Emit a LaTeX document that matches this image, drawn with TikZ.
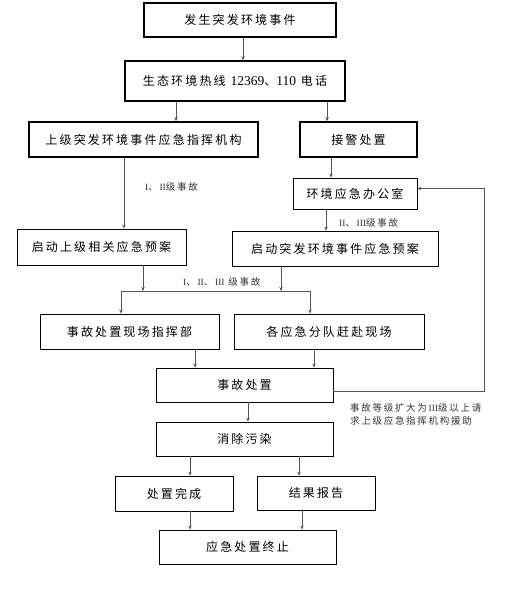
\documentclass[tikz,border=0pt]{standalone}
\usepackage{fontspec}
\setmainfont{Liberation Serif}
\newfontfamily\zhfont[LetterSpace=18]{Noto Sans CJK SC}
\usetikzlibrary{arrows.meta, positioning}
\definecolor{flowgrey}{HTML}{555555}
\tikzset{
  >={Stealth[length=4pt, width=3.5pt]},
  box/.style={rectangle, draw=black, line width=0.8pt, align=center, inner sep=0pt,
              font=\zhfont\fontsize{12}{14}\selectfont},
  boxb/.style={box, line width=1.6pt},
  flow/.style={->, draw=flowgrey, line width=0.8pt},
  link/.style={draw=flowgrey, line width=0.8pt},
  lbl/.style={font=\zhfont\fontsize{9.5}{13}\selectfont, text=black!80, inner sep=0pt, anchor=west, align=left},
}
\newcommand{\num}[1]{{\rmfamily\fontsize{13.5}{14}\selectfont #1}}

\begin{document}
\begin{tikzpicture}[x=1pt, y=-1pt]
  \useasboundingbox (0,0) rectangle (505,600);
  % main boxes
  \node[boxb, minimum width=192pt, minimum height=34pt] (ev) at (240,20) {发生突发环境事件};
  \node[boxb, minimum width=220pt, minimum height=40pt] (hot) at (235,81) {生态环境热线 \num{12369}、\num{110} 电话};
  \node[boxb, minimum width=229pt, minimum height=35pt] (up) at (143.5,139.5) {上级突发环境事件应急指挥机构};
  \node[boxb, minimum width=117pt, minimum height=35pt] (recv) at (358.5,139.5) {接警处置};
  \node[box, minimum width=124pt, minimum height=31pt] (office) at (355,193.5) {环境应急办公室};
  \node[box, minimum width=169pt, minimum height=36pt] (pre) at (101.5,247) {启动上级相关应急预案};
  \node[box, minimum width=206pt, minimum height=35pt] (plan) at (335,248.5) {启动突发环境事件应急预案};
  \node[box, minimum width=179pt, minimum height=35pt] (cmd) at (129.5,331.5) {事故处置现场指挥部};
  \node[box, minimum width=190pt, minimum height=35pt] (team) at (329,331.5) {各应急分队赶赴现场};
  \node[box, minimum width=177pt, minimum height=34pt] (deal) at (244.5,385) {事故处置};
  \node[box, minimum width=177pt, minimum height=34pt] (clean) at (244.5,439) {消除污染};
  \node[box, minimum width=118pt, minimum height=35pt] (done) at (174,493.5) {处置完成};
  \node[box, minimum width=118pt, minimum height=34pt] (rep) at (316,493) {结果报告};
  \node[box, minimum width=177pt, minimum height=34pt] (stop) at (247.5,547) {应急处置终止};

  % labels
  \node[lbl] (l12) at (145,187) {\textrm{I}、\textrm{II}级事故};
  \node[lbl] (l23) at (339,223) {\textrm{II}、\textrm{III}级事故};
  \node[lbl] (l123) at (183,282) {\textrm{I}、\textrm{II}、\textrm{III} 级事故};
  \node[lbl] (note) at (350,414.5) {事故等级扩大为\textrm{III}级以上请\\求上级应急指挥机构援助};

  % connectors
  \coordinate (jl) at (121,291);
  \coordinate (jr) at (310,291);
  \coordinate (fb) at (484,0);
  \draw[flow] (ev.south -| 243,0) -- (hot.north -| 243,0);
  \draw[flow] (hot.south -| 176,0) -- (up.north -| 176,0);
  \draw[flow] (hot.south -| 327,0) -- (recv.north -| 327,0);
  \draw[flow] (up.south -| 124,0) -- (pre.north -| 124,0);
  \draw[flow] (recv.south -| 331,0) -- (office.north -| 331,0);
  \draw[flow] (office.south -| 326,0) -- (plan.north -| 326,0);
  \draw[flow] (pre.south -| 143,0) -- (jl -| 143,0);
  \draw[flow] (plan.south -| 281,0) -- (jr -| 281,0);
  \draw[link] (jl) -- (jr);
  \draw[flow] (jl) -- (cmd.north -| jl);
  \draw[flow] (jr) -- (team.north -| jr);
  \draw[flow] (cmd.south -| 195,0) -- (deal.north -| 195,0);
  \draw[flow] (team.south -| 314,0) -- (deal.north -| 314,0);
  \draw[flow] ([yshift=-6pt]deal.east) -| ([yshift=5pt]office.east -| fb) -- ([yshift=5pt]office.east);
  \draw[flow] (deal.south -| 248,0) -- (clean.north -| 248,0);
  \draw[flow] (clean.south -| 190,0) -- (done.north -| 190,0);
  \draw[flow] (clean.south -| 299,0) -- (rep.north -| 299,0);
  \draw[flow] (done.south -| 190,0) -- (stop.north -| 190,0);
  \draw[flow] (rep.south -| 302,0) -- (stop.north -| 302,0);
\end{tikzpicture}
\end{document}
